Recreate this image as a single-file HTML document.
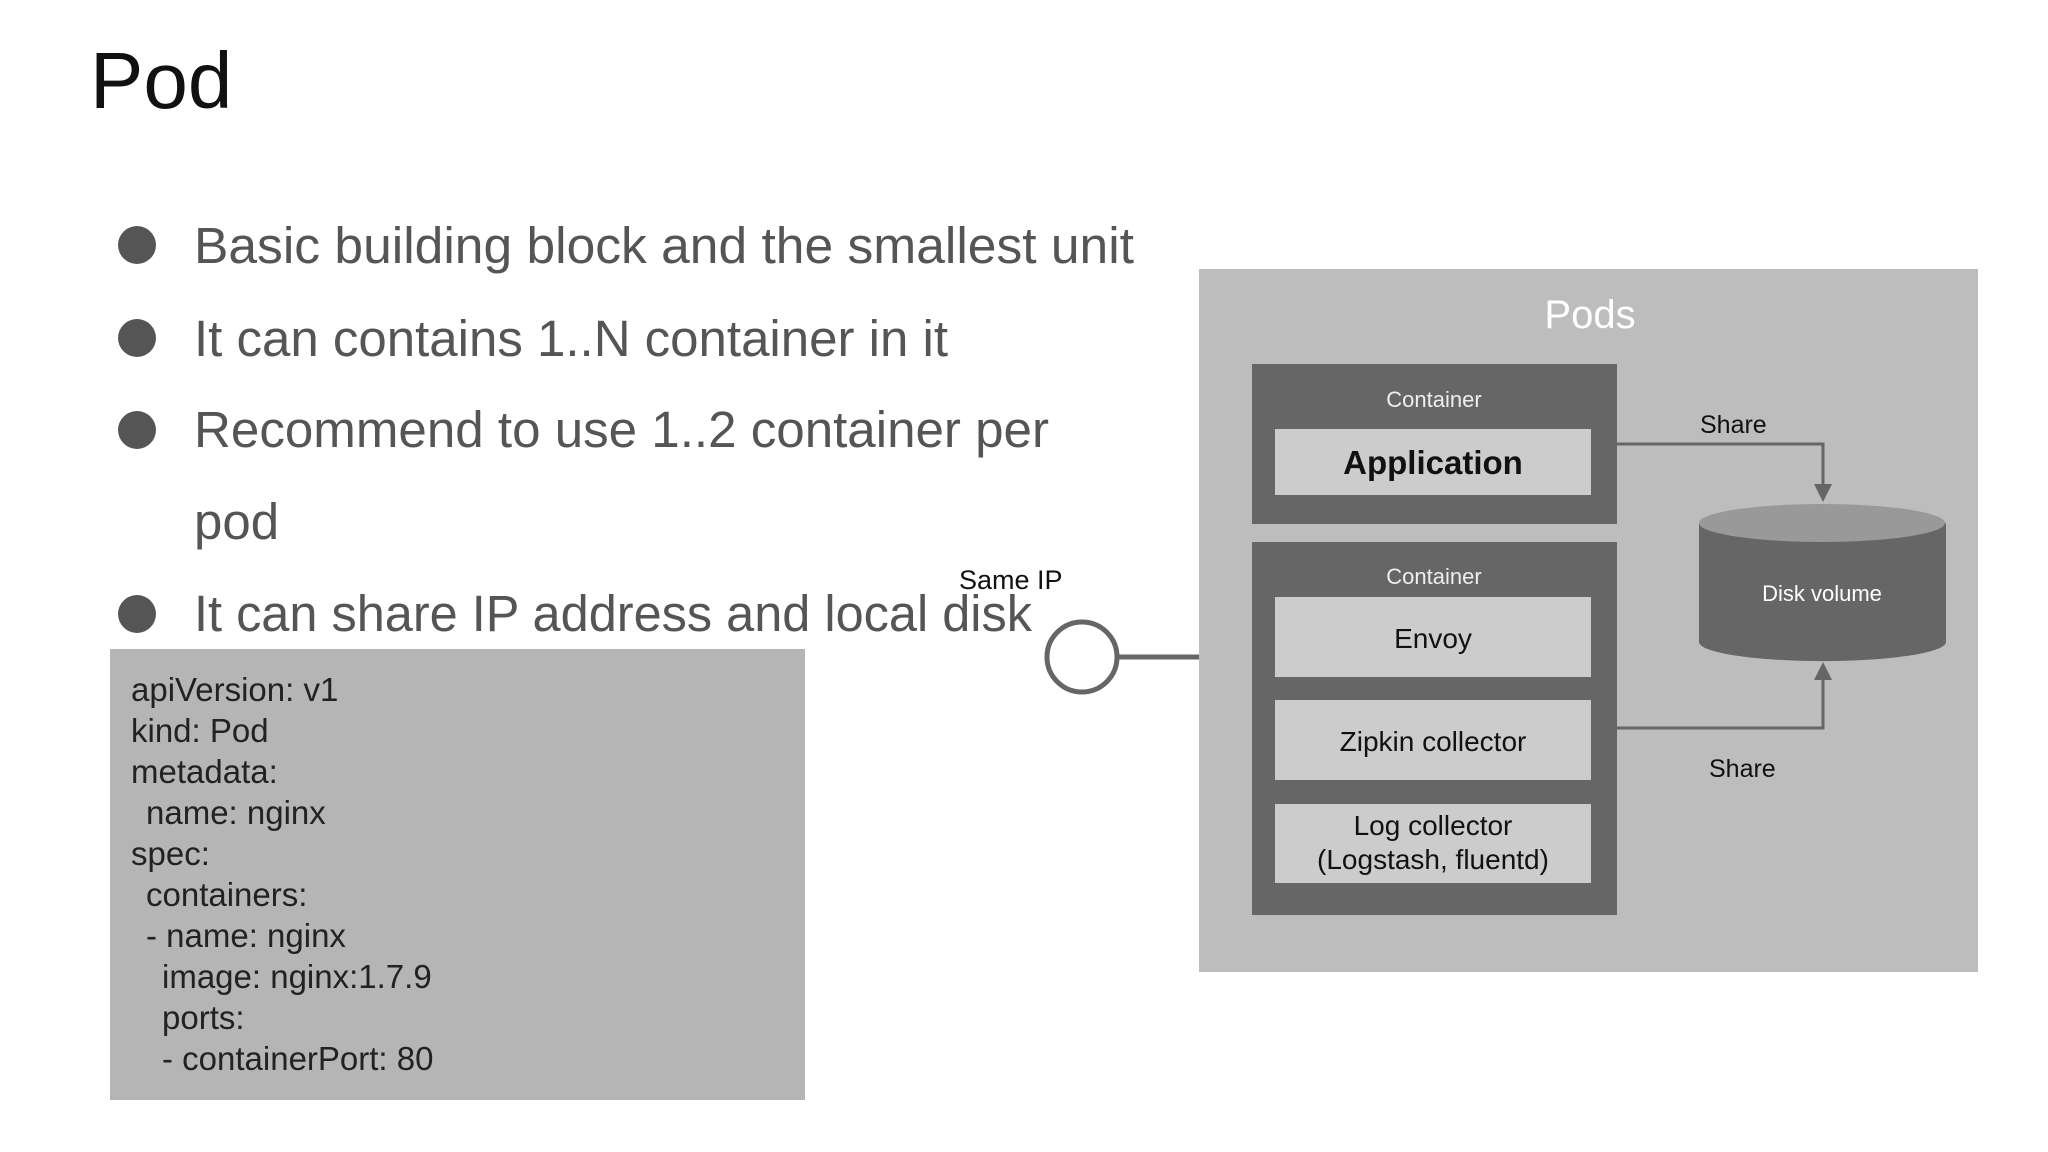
<!DOCTYPE html>
<html><head><meta charset="utf-8"><style>
html,body{margin:0;padding:0;background:#fff}
svg{display:block}
</style></head><body>
<svg width="2048" height="1152" viewBox="0 0 2048 1152" xmlns="http://www.w3.org/2000/svg" font-family="Liberation Sans, sans-serif">
<text x="90" y="108" font-size="80" fill="#111">Pod</text>
<g fill="#555">
<circle cx="137" cy="245" r="19"/><circle cx="137" cy="338" r="19"/><circle cx="137" cy="430" r="19"/><circle cx="137" cy="614" r="19"/>
</g>
<g font-size="51" fill="#555">
<text x="194" y="263" textLength="940" lengthAdjust="spacingAndGlyphs">Basic building block and the smallest unit</text>
<text x="194" y="356" textLength="754" lengthAdjust="spacingAndGlyphs">It can contains 1..N container in it</text>
<text x="194" y="447" textLength="855" lengthAdjust="spacingAndGlyphs">Recommend to use 1..2 container per</text>
<text x="194" y="539">pod</text>
<text x="194" y="631" textLength="838" lengthAdjust="spacingAndGlyphs">It can share IP address and local disk</text>
</g>
<rect x="110" y="649" width="695" height="451" fill="#b5b5b5"/>
<g font-size="33" fill="#222">
<text x="131" y="701">apiVersion: v1</text>
<text x="131" y="742">kind: Pod</text>
<text x="131" y="783">metadata:</text>
<text x="146" y="824">name: nginx</text>
<text x="131" y="865">spec:</text>
<text x="146" y="906">containers:</text>
<text x="146" y="947">- name: nginx</text>
<text x="162" y="988">image: nginx:1.7.9</text>
<text x="162" y="1029">ports:</text>
<text x="162" y="1070">- containerPort: 80</text>
</g>
<text x="959" y="589" font-size="27" fill="#111">Same IP</text>
<circle cx="1082" cy="657" r="35" fill="#fff" stroke="#666" stroke-width="5"/>
<line x1="1117" y1="657" x2="1199" y2="657" stroke="#666" stroke-width="5"/>
<rect x="1199" y="269" width="779" height="703" fill="#bdbdbd"/>
<text x="1590" y="328" font-size="40" fill="#fff" text-anchor="middle">Pods</text>
<rect x="1252" y="364" width="365" height="160" fill="#666"/>
<text x="1434" y="407" font-size="22" fill="#eee" text-anchor="middle">Container</text>
<rect x="1275" y="429" width="316" height="66" fill="#ccc"/>
<text x="1433" y="474" font-size="33" font-weight="bold" fill="#111" text-anchor="middle">Application</text>
<rect x="1252" y="542" width="365" height="373" fill="#666"/>
<text x="1434" y="584" font-size="22" fill="#eee" text-anchor="middle">Container</text>
<rect x="1275" y="597" width="316" height="80" fill="#ccc"/>
<text x="1433" y="648" font-size="28" fill="#111" text-anchor="middle">Envoy</text>
<rect x="1275" y="700" width="316" height="80" fill="#ccc"/>
<text x="1433" y="751" font-size="28" fill="#111" text-anchor="middle">Zipkin collector</text>
<rect x="1275" y="804" width="316" height="79" fill="#ccc"/>
<text x="1433" y="835" font-size="28" fill="#111" text-anchor="middle">Log collector</text>
<text x="1433" y="869" font-size="28" fill="#111" text-anchor="middle">(Logstash, fluentd)</text>
<g stroke="#666" stroke-width="3" fill="none">
<polyline points="1617,444 1823,444 1823,486"/>
<polyline points="1617,728 1823,728 1823,678"/>
</g>
<polygon points="1814,484 1832,484 1823,502" fill="#666"/>
<polygon points="1814,680 1832,680 1823,662" fill="#666"/>
<text x="1700" y="433" font-size="25" fill="#111">Share</text>
<text x="1709" y="777" font-size="25" fill="#111">Share</text>
<path d="M1699,523 L1699,642 A123,19 0 0 0 1946,642 L1946,523 Z" fill="#666"/>
<ellipse cx="1822" cy="523" rx="123" ry="19" fill="#999"/>
<text x="1822" y="601" font-size="22" fill="#fff" text-anchor="middle">Disk volume</text>
</svg>
</body></html>
